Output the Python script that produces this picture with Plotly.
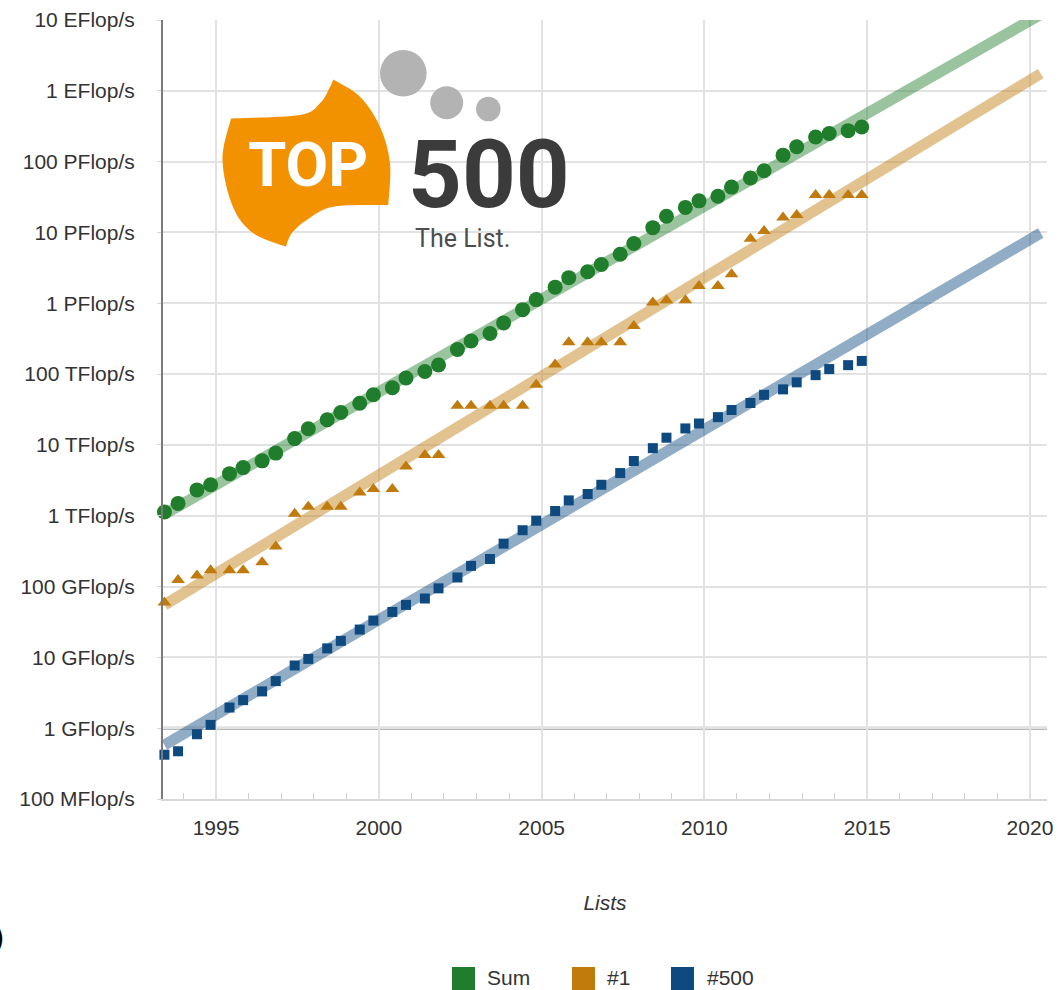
import plotly.graph_objects as go

# ---------------- data (TOP500 lists, Rmax in GFlop/s) ----------------
list_dates = []
for yr in range(1993, 2015):
    list_dates += [f"{yr}-06-01", f"{yr}-11-01"]

sum_perf = [1128, 1493, 2317, 2732, 3927, 4784, 5959, 7656, 12280, 16940,
            22690, 28710, 38690, 50970, 64280, 88270, 108600, 134400, 222200, 293000,
            374500, 528000, 813100, 1127000, 1690000, 2300000, 2790000, 3530000, 4920000, 6970000,
            11700000, 16950000, 22600000, 27950000, 32400000, 43660000, 58880000, 74200000, 123400000, 162000000,
            223000000, 250000000, 274000000, 309000000]
no1_perf = [59.7, 124, 143.4, 170, 170, 170, 220.4, 368.2, 1068, 1338,
            1338, 1338, 2121, 2379, 2379, 4938, 7226, 7226, 35860, 35860,
            35860, 35860, 35860, 70720, 136800, 280600, 280600, 280600, 280600, 478200,
            1026000, 1105000, 1105000, 1759000, 1759000, 2566000, 8162000, 10510000, 16320000, 17590000,
            33860000, 33860000, 33860000, 33860000]
no500_perf = [0.422, 0.472, 0.822, 1.114, 1.955, 2.489, 3.306, 4.62, 7.68, 9.51,
              13.39, 17.1, 24.7, 33.1, 43.8, 55.1, 67.8, 94.3, 134.3, 195.8,
              245.1, 403.4, 624, 850.6, 1166, 1646, 2026, 2737, 4005, 5929,
              9000, 12640, 17090, 20050, 24670, 31120, 39090, 50940, 60820, 76500,
              96620, 117800, 133700, 153400]

# projected trend lines (start / end)
trend_dates = ["1993-06-01", "2020-05-01"]
trend_sum = [1.05e3, 1.2e10]
trend_no1 = [55, 1.75e9]
trend_no500 = [0.58, 9.8e6]

series_names = ["Sum", "#1", "#500"]
series_colors = ["#1f7d2b", "#c07b0c", "#0e4a80"]

y_tick_vals = [0.1, 1, 10, 100, 1e3, 1e4, 1e5, 1e6, 1e7, 1e8, 1e9, 1e10]
y_tick_text = ["100 MFlop/s", "1 GFlop/s", "10 GFlop/s", "100 GFlop/s", "1 TFlop/s",
               "10 TFlop/s", "100 TFlop/s", "1 PFlop/s", "10 PFlop/s", "100 PFlop/s",
               "1 EFlop/s", "10 EFlop/s"]
baseline_value = 1  # 1 GFlop/s

# ---------------- layout geometry helpers ----------------
FW, FH = 1058, 990
L, R, T, B = 163, 1047, 20, 799
PW, PH = R - L, B - T


def px(x):
    return (x - L) / PW


def py(y):
    return (B - y) / PH


FONT = "Liberation Sans, Arial, Helvetica, sans-serif"

fig = go.Figure()

trends = [trend_sum, trend_no1, trend_no500]
for name, col, tr in zip(series_names, series_colors, trends):
    fig.add_trace(go.Scatter(
        x=trend_dates, y=tr, mode="lines",
        line=dict(color=col, width=11), opacity=0.45,
        cliponaxis=False, showlegend=False, hoverinfo="skip"))

fig.add_trace(go.Scatter(x=list_dates, y=sum_perf, mode="markers", name="Sum",
                         marker=dict(symbol="circle", size=15, color=series_colors[0]),
                         cliponaxis=False, showlegend=False))
fig.add_trace(go.Scatter(x=list_dates, y=no1_perf, mode="markers", name="#1",
                         marker=dict(symbol="triangle-up", size=12, color=series_colors[1]),
                         cliponaxis=False, showlegend=False))
fig.add_trace(go.Scatter(x=list_dates, y=no500_perf, mode="markers", name="#500",
                         marker=dict(symbol="square", size=10, color=series_colors[2]),
                         cliponaxis=False, showlegend=False))

shapes = []
# 1 GFlop/s reference line
shapes.append(dict(type="line", xref="paper", yref="y", x0=0, x1=1,
                   y0=baseline_value, y1=baseline_value,
                   line=dict(color="#a0a0a0", width=3), layer="below"))


# ---------------- TOP500 logo ----------------
def catmull(points):
    """Smooth cubic path through points (pixel coords) -> path string in paper coords."""
    pts = [points[0]] + points + [points[-1]]
    segs = []
    for i in range(1, len(pts) - 2):
        p0, p1, p2, p3 = pts[i - 1], pts[i], pts[i + 1], pts[i + 2]
        c1 = (p1[0] + (p2[0] - p0[0]) / 6, p1[1] + (p2[1] - p0[1]) / 6)
        c2 = (p2[0] - (p3[0] - p1[0]) / 6, p2[1] - (p3[1] - p1[1]) / 6)
        segs.append("C {:.5f},{:.5f} {:.5f},{:.5f} {:.5f},{:.5f}".format(
            px(c1[0]), py(c1[1]), px(c2[0]), py(c2[1]), px(p2[0]), py(p2[1])))
    return " ".join(segs)


top_edge = [(231, 118.5), (300, 115), (320, 103.3), (329.5, 88), (333.3, 79.5)]
right_edge = [(333.3, 79.5), (360, 96.7), (380, 126.7), (390, 163.3), (388.3, 205)]
bottom_edge = [(388.3, 205), (333.3, 206.7), (306.7, 220), (291.7, 233.3), (286, 246.7)]
left_edge = [(286, 246.7), (253, 233), (233, 207), (222.5, 160), (231, 118.5)]
path = "M {:.5f},{:.5f} ".format(px(231), py(118.5))
for seg in (top_edge, right_edge, bottom_edge, left_edge):
    path += catmull(seg) + " "
path += "Z"
shapes.append(dict(type="path", xref="paper", yref="paper", path=path,
                   fillcolor="#f39200", line=dict(width=0), layer="above"))

for cx, cy, r in [(403.3, 73.3, 23.3), (446.7, 102.7, 16.5), (488.3, 109, 12.3)]:
    shapes.append(dict(type="circle", xref="paper", yref="paper",
                       x0=px(cx - r), x1=px(cx + r), y0=py(cy + r), y1=py(cy - r),
                       fillcolor="#b3b3b3", line=dict(width=0), layer="above"))

# manual legend squares
legend_x = [452, 572, 671]
legend_text_x = [485, 605, 705]
for lx, col in zip(legend_x, series_colors):
    shapes.append(dict(type="rect", xref="paper", yref="paper",
                       x0=px(lx), x1=px(lx + 23), y0=py(967), y1=py(990),
                       fillcolor=col, line=dict(width=0)))

annotations = [
    dict(text="<b>TOP</b>", x=px(308), y=py(164), xref="paper", yref="paper",
         showarrow=False, font=dict(family="Roboto", size=62, color="white"),
         xanchor="center", yanchor="middle"),
    dict(text="<b>500</b>", x=px(488.5), y=py(175), xref="paper", yref="paper",
         showarrow=False, font=dict(family="Roboto", size=94, color="#3b3b3c"),
         xanchor="center", yanchor="middle"),
    dict(text="The List.", x=px(413), y=py(238), xref="paper", yref="paper",
         showarrow=False, font=dict(family="Roboto", size=25, color="#4d4d4d"),
         xanchor="left", yanchor="middle"),
    dict(text=")", x=px(6), y=py(936), xref="paper", yref="paper",
         showarrow=False, font=dict(family=FONT, size=30, color="black"),
         xanchor="right", yanchor="middle"),
]
for tx, name in zip(legend_text_x, series_names):
    annotations.append(dict(text=name, x=px(tx), y=py(978), xref="paper", yref="paper",
                            showarrow=False, font=dict(family=FONT, size=21, color="#333"),
                            xanchor="left", yanchor="middle"))

fig.update_layout(
    width=FW, height=FH,
    margin=dict(l=L, r=FW - R, t=T, b=FH - B, autoexpand=False),
    paper_bgcolor="white", plot_bgcolor="white",
    showlegend=False,
    shapes=shapes, annotations=annotations,
    font=dict(family=FONT, size=21, color="#333"),
    xaxis=dict(
        type="date", range=["1993-05-16", "2020-07-10"],
        tick0="1995-01-01", dtick="M60", tickformat="%Y",
        showgrid=True, gridcolor="#e2e2e2", gridwidth=2,
        showline=True, linecolor="#d6d6d6", linewidth=2,
        ticks="", ticklabelstandoff=9,
        minor=dict(dtick="M12", ticks="inside", ticklen=6, tickcolor="#cfcfcf",
                   tickwidth=1, showgrid=False),
        tickfont=dict(size=21, color="#333"),
        title=dict(text="<i>Lists</i>", font=dict(size=21, color="#333"), standoff=57),
        automargin=False, zeroline=False,
    ),
    yaxis=dict(
        type="log", range=[-1, 10],
        tickvals=y_tick_vals, ticktext=y_tick_text,
        showgrid=True, gridcolor="#e2e2e2", gridwidth=2,
        showline=True, linecolor="#7a7a7a", linewidth=2,
        ticks="outside", ticklen=4, tickcolor="#d6d6d6",
        ticklabelstandoff=18,
        tickfont=dict(size=21, color="#333"),
        automargin=False, zeroline=False,
    ),
)

fig.write_html("out.html")
